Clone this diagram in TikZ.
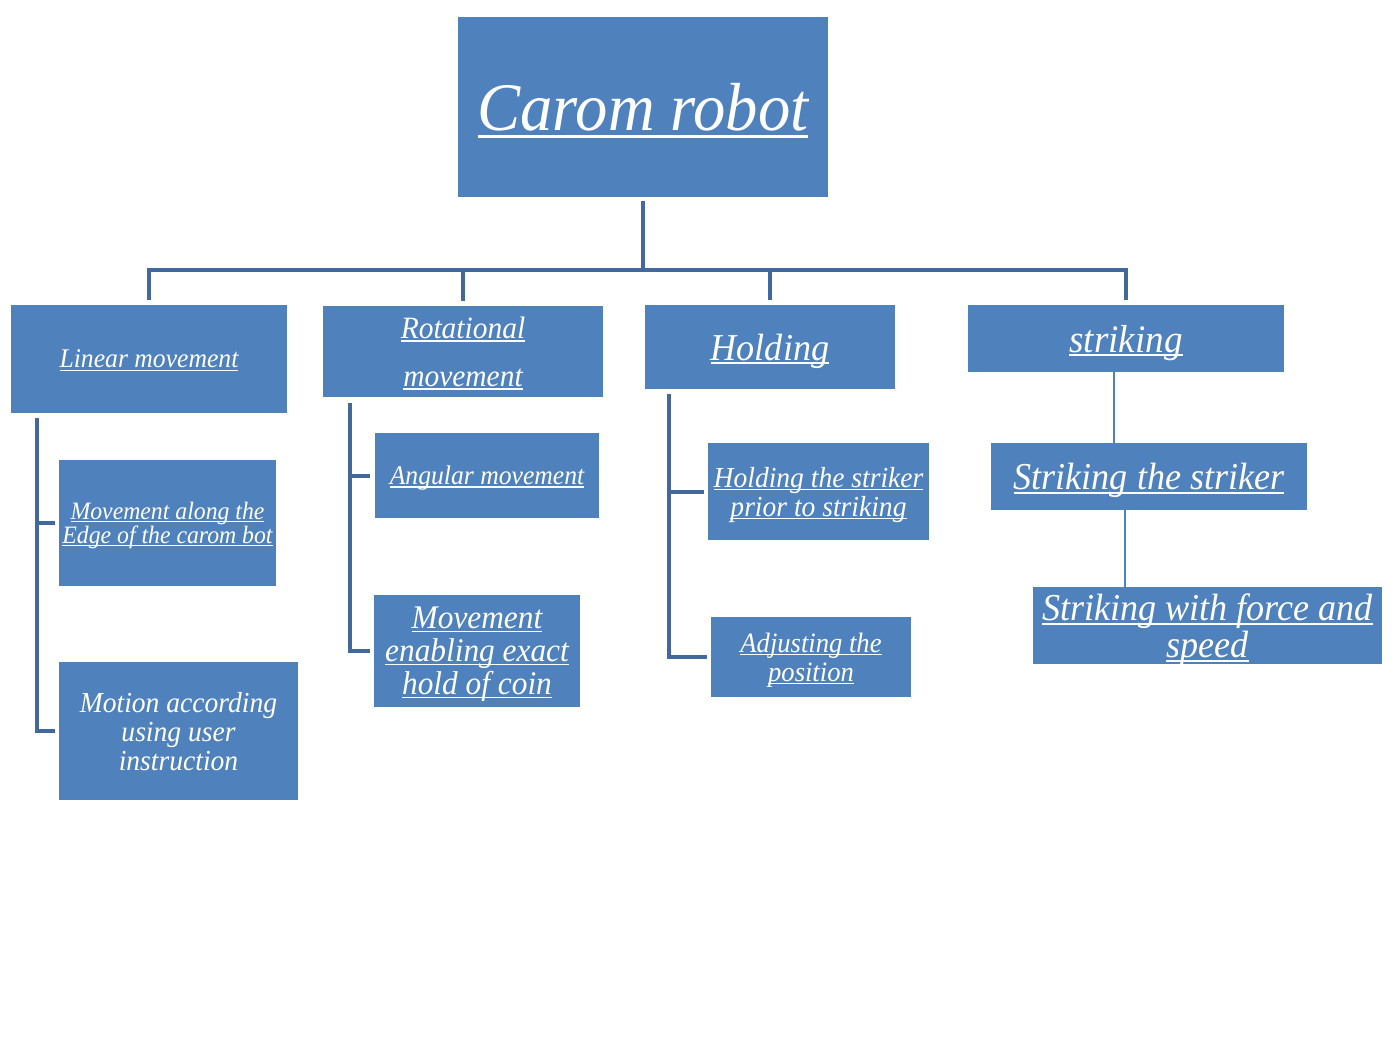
\documentclass[tikz,border=0pt]{standalone}
\usepackage{fontspec}
\setmainfont[FakeStretch=0.95]{Liberation Serif}
\definecolor{boxblue}{RGB}{79,129,189}
\definecolor{lineblue}{RGB}{65,105,160}
\newcommand\myul[1]{\setbox0\hbox{#1}\rlap{\rule[-0.11em]{\wd0}{0.05em}}\box0}
\newcommand\fs[2]{\fontsize{#1}{#2}\selectfont\itshape}
\begin{document}
\begin{tikzpicture}[x=0.5pt,y=-0.5pt,
  box/.style={fill=boxblue, text=white, inner sep=0pt, align=center, text depth=0pt},
  conn/.style={draw=lineblue, line width=2pt},
  thinconn/.style={draw=boxblue, line width=1pt}]
\useasboundingbox (0,0) rectangle (1400,1050);
% top
\node[box, minimum width=185pt, minimum height=90pt, font=\fs{34}{40}] (root) at (643,107) {\myul{Carom robot}};
% level 1
\node[box, minimum width=138pt, minimum height=54pt, font=\fs{13.5}{16}] (lin) at (149,359) {\myul{Linear movement}};
\node[box, minimum width=140pt, minimum height=45.5pt, font=\fs{15.5}{24}] (rot) at (463,351.5) {\myul{Rotational}\\\myul{movement}};
\node[box, minimum width=125pt, minimum height=42pt, font=\fs{19}{22}] (hold) at (770,347) {\myul{Holding}};
\node[box, minimum width=158pt, minimum height=33.5pt, font=\fs{19.5}{22}] (strk) at (1126,338.5) {\myul{striking}};
% linear children
\node[box, minimum width=108.5pt, minimum height=63pt, font=\fs{12.5}{12}] (edge) at (167.5,523) {\myul{Movement along the}\\\myul{Edge of the carom bot}};
\node[box, minimum width=119.5pt, minimum height=69pt, font=\fs{14.5}{14.5}] (motion) at (178.5,731) {Motion according\\using user\\instruction};
% rotational children
\node[box, minimum width=112pt, minimum height=42.5pt, font=\fs{13.5}{16}] (ang) at (487,475.5) {\myul{Angular movement}};
\node[box, minimum width=103pt, minimum height=56pt, font=\fs{16.5}{16.5}] (exact) at (477,651) {\myul{Movement}\\\myul{enabling exact}\\\myul{hold of coin}};
% holding children
\node[box, minimum width=110.5pt, minimum height=48.5pt, font=\fs{14.5}{14.5}] (prior) at (818.5,491.5) {\myul{Holding the striker}\\\myul{prior to striking}};
\node[box, minimum width=100pt, minimum height=40pt, font=\fs{14}{14.5}] (adj) at (811,657) {\myul{Adjusting the}\\\myul{position}};
% striking children
\node[box, minimum width=158pt, minimum height=33.5pt, font=\fs{19}{22}] (sts) at (1149,476.5) {\myul{Striking the striker}};
\node[box, minimum width=174.5pt, minimum height=38.5pt, font=\fs{19}{18.5}] (force) at (1207.5,625.5) {\myul{Striking with force and}\\\myul{speed}};
% connectors from root
\foreach \c in {lin,rot,hold,strk}
  \draw[conn, shorten <=2pt, shorten >=2.5pt] (root.south) -- ++(0,73) -| (\c.north);
% linear branch
\draw[conn, shorten >=2pt] ([xshift=13pt,yshift=-2.5pt]lin.south west) |- (edge.west);
\draw[conn, shorten >=2pt] ([xshift=13pt,yshift=-2.5pt]lin.south west) |- (motion.west);
% rotational branch
\draw[conn, shorten >=2.5pt] ([xshift=13.5pt,yshift=-3pt]rot.south west) |- (ang.west);
\draw[conn, shorten >=2pt] ([xshift=13.5pt,yshift=-3pt]rot.south west) |- (exact.west);
% holding branch
\draw[conn, shorten >=2pt] ([xshift=12pt,yshift=-2.5pt]hold.south west) |- (prior.west);
\draw[conn, shorten >=2pt] ([xshift=12pt,yshift=-2.5pt]hold.south west) |- (adj.west);
% striking branch
\draw[thinconn] ([xshift=-6pt]strk.south) -- ([xshift=-6pt]strk.south |- sts.north);
\draw[thinconn] ([xshift=-12pt]sts.south) -- ([xshift=-12pt]sts.south |- force.north);
\end{tikzpicture}
\end{document}
